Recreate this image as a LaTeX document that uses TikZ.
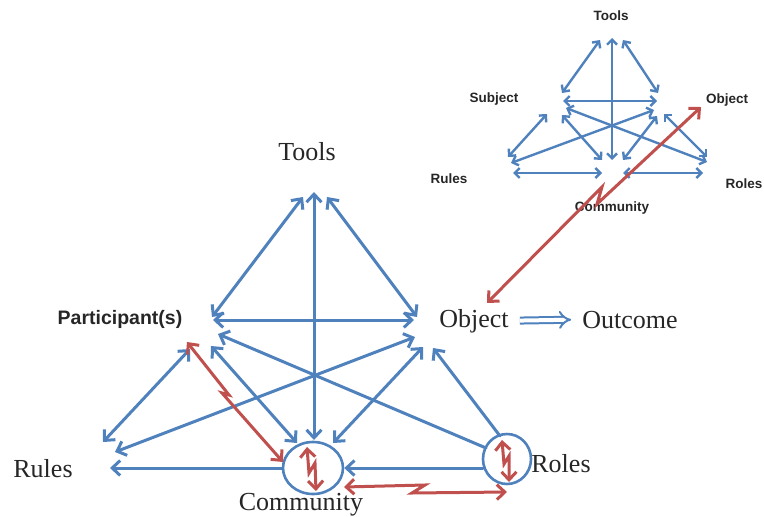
\documentclass[tikz,border=0pt]{standalone}
\usepackage{fontspec}
\setmainfont{Liberation Serif}
\newfontfamily\labelsans{Liberation Sans}
\usetikzlibrary{arrows.meta,shapes.geometric}
\definecolor{linkblue}{HTML}{4F81BD}
\definecolor{linkred}{HTML}{C0504D}
\definecolor{ink}{HTML}{262626}
\begin{document}
\begin{tikzpicture}[x=1pt,y=-1pt,
  bigtip/.tip={Straight Barb[length=8pt,width=15pt]},
  smalltip/.tip={Straight Barb[length=5pt,width=10pt]},
  biglabel/.style={anchor=base,text=ink,inner sep=0pt,font=\fontsize{26}{30}\selectfont},
  partlabel/.style={anchor=base,text=ink,inner sep=0pt,font=\labelsans\bfseries\fontsize{19.5}{22}\selectfont},
  smalllabel/.style={anchor=base,text=ink,inner sep=0pt,font=\labelsans\bfseries\fontsize{13.5}{16}\selectfont},
  bluelink/.style={draw=linkblue,line width=3pt,line cap=round,line join=round},
  redlink/.style={draw=linkred,line width=3pt,line cap=round,line join=miter,{bigtip}-{bigtip}},
  smalllink/.style={draw=linkblue,line width=2.4pt,line cap=round,{smalltip}-{smalltip}},
  ring/.style={draw=linkblue,line width=2.6pt,ellipse,inner sep=0pt},
]
\useasboundingbox (0,0) rectangle (764,517);

% ---------- large activity system ----------
\node[biglabel]  (tools)   at (307,160) {Tools};
\node[partlabel] (part)    at (120,324) {Participant(s)};
\node[biglabel]  (obj)     at (474,327) {Object};
\node[biglabel]  (outcome) at (630,328) {Outcome};
\node[biglabel]  (rules)   at (43,477)  {Rules};
\node[biglabel]  (commlbl) at (301,510) {Community};
\node[biglabel]  (roleslbl) at (561,472) {Roles};

\node[ring,minimum width=60pt,minimum height=52pt] (comm)  at (313,468) {};
\node[ring,minimum width=48pt,minimum height=50pt] (roles) at (507,459) {};

% link end points around the triangle
\coordinate (T0) at (314,192);
\coordinate (TL) at (303,197);
\coordinate (TR) at (327,197);
\coordinate (PT) at (212,317);
\coordinate (OT) at (417,317);
\coordinate (PO) at (213,320);
\coordinate (OP) at (414,320);
\coordinate (PR) at (190,349);
\coordinate (RP) at (103,442);
\coordinate (PC) at (211,346);
\coordinate (CP) at (297,443);
\coordinate (PX) at (218,334);
\coordinate (XP) at (486,448);
\coordinate (RO) at (115,452);
\coordinate (OR) at (415,337);
\coordinate (OC) at (423,347);
\coordinate (CO) at (333,443);
\coordinate (OX) at (433,348);
\coordinate (XO) at (500,436);
\coordinate (CT) at (314,440);
\coordinate (RC) at (110,468);
\coordinate (XC) at (483,468);

\draw[bluelink,{bigtip}-{bigtip}] (TL) -- (PT);
\draw[bluelink,{bigtip}-{bigtip}] (TR) -- (OT);
\draw[bluelink,{bigtip}-{bigtip}] (T0) -- (CT);
\draw[bluelink,{bigtip}-{bigtip}] (PO) -- (OP);
\draw[bluelink,{bigtip}-{bigtip}] (PR) -- (RP);
\draw[bluelink,{bigtip}-{bigtip}] (PC) -- (CP);
\draw[bluelink,{bigtip}-]         (PX) -- (XP);
\draw[bluelink,{bigtip}-{bigtip}] (RO) -- (OR);
\draw[bluelink,{bigtip}-{bigtip}] (OC) -- (CO);
\draw[bluelink,{bigtip}-]         (OX) -- (XO);
\draw[bluelink,-{bigtip}]         (comm.west) -- (RC);
\draw[bluelink,-{bigtip}]         (XC) -- (comm.east);

% object leads to outcome
\draw[draw=linkblue,line width=2pt,double=white,double distance=4pt,-{Implies},
      shorten <=11pt,shorten >=11pt] (obj.east) -- (outcome.west);

% contradictions (lightning links)
\coordinate (rPC1) at (187,342);
\coordinate (rPC2) at (283,462);
\draw[redlink] (rPC1) -- (229,395) -- (222,393) -- (rPC2);

\coordinate (rC1) at (307,447);
\coordinate (rC2) at (316,491);
\draw[redlink] (rC1) -- (309,473) -- (315,463) -- (rC2);

\coordinate (rX1) at (502,440);
\coordinate (rX2) at (509,482);
\draw[redlink] (rX1) -- (504,464) -- (509,456) -- (rX2);

\coordinate (rB1) at (344,487);
\coordinate (rB2) at (507,492);
\draw[redlink] (rB1) -- (425,485) -- (412,493) -- (rB2);

% ---------- small activity system ----------
\node[smalllabel] (sTools) at (611,20)  {Tools};
\node[smalllabel] (sSubj)  at (494,102) {Subject};
\node[smalllabel] (sObj)   at (727,103) {Object};
\node[smalllabel] (sRules) at (449,183) {Rules};
\node[smalllabel] (sRoles) at (744,188) {Roles};
\node[smalllabel] (sComm)  at (612,211) {Community};

\coordinate (sT0) at (612,38);
\coordinate (sTL) at (600,40);
\coordinate (sTR) at (623,40);
\coordinate (sST) at (562,93);
\coordinate (sOT) at (658,93);
\coordinate (sCT) at (612,160);
\coordinate (sSO) at (563,101);
\coordinate (sOS) at (657,101);
\coordinate (sSR) at (547,114);
\coordinate (sRS) at (508,157);
\coordinate (sSC) at (562,115);
\coordinate (sCS) at (602,160);
\coordinate (sSX) at (566,108);
\coordinate (sXS) at (707,162);
\coordinate (sOR) at (654,110);
\coordinate (sRO) at (511,163);
\coordinate (sOC) at (657,116);
\coordinate (sCO) at (623,160);
\coordinate (sOX) at (664,114);
\coordinate (sXO) at (707,157);
\coordinate (sRC) at (513,173);
\coordinate (sCR) at (602,173);
\coordinate (sXC) at (703,173);
\coordinate (sCX) at (623,173);

\draw[smalllink] (sTL) -- (sST);
\draw[smalllink] (sTR) -- (sOT);
\draw[smalllink] (sT0) -- (sCT);
\draw[smalllink] (sSO) -- (sOS);
\draw[smalllink] (sSR) -- (sRS);
\draw[smalllink] (sSC) -- (sCS);
\draw[smalllink] (sSX) -- (sXS);
\draw[smalllink] (sOR) -- (sRO);
\draw[smalllink] (sOC) -- (sCO);
\draw[smalllink] (sOX) -- (sXO);
\draw[smalllink] (sRC) -- (sCR);
\draw[smalllink] (sXC) -- (sCX);

% link between the two systems' objects
\coordinate (lnkA) at (487,303);
\coordinate (lnkB) at (701,107);
\draw[redlink] (lnkA) -- (602,187) -- (597,204) -- (lnkB);
\end{tikzpicture}
\end{document}
